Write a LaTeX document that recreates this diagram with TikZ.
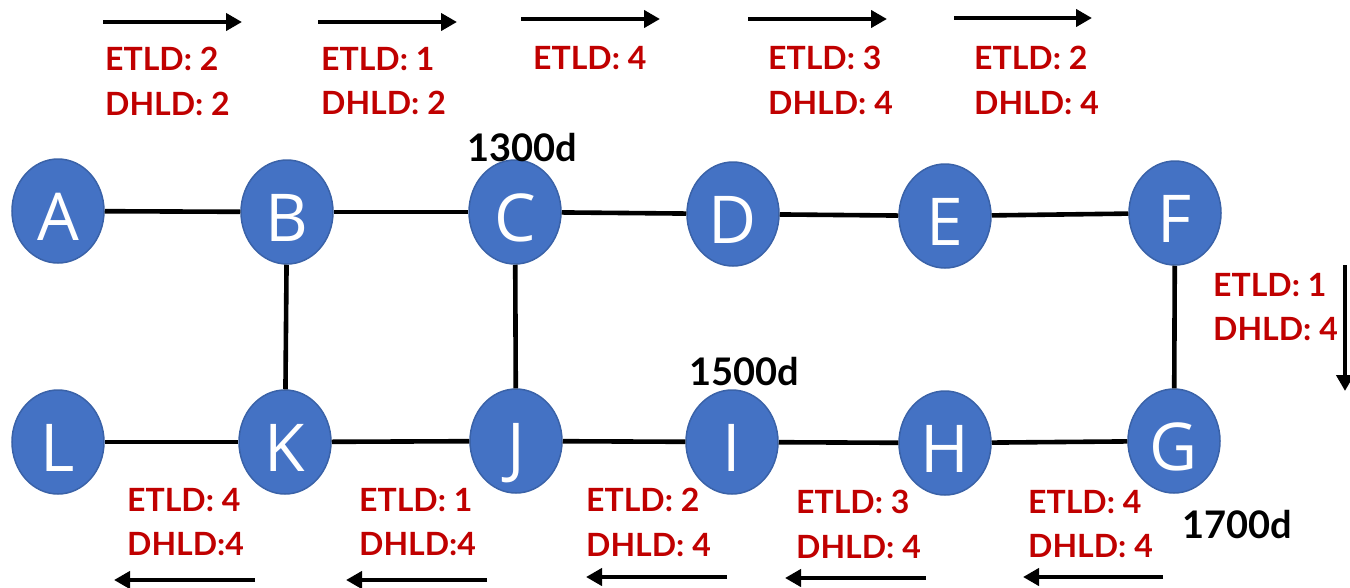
\documentclass[tikz,border=0pt]{standalone}
\usepackage{fontspec}
\newfontfamily\labfont{Lato}
\newfontfamily\letfont{Open Sans}
\usetikzlibrary{arrows.meta,shapes.geometric}
\definecolor{nodeblue}{HTML}{4472C4}
\definecolor{nodeedge}{HTML}{3A62A8}
\definecolor{labred}{HTML}{C00000}
\begin{document}
\begin{tikzpicture}[x=1pt,y=-1pt,
  vtx/.style={ellipse, draw=nodeedge, line width=1.5pt, fill=nodeblue,
    minimum width=92pt, minimum height=104pt, inner sep=0pt,
    text=white, font=\letfont\fontsize{66}{70}\selectfont,
    text height=59pt, text depth=0pt},
  link/.style={line width=4.6pt, black},
  arr/.style={line width=4.6pt, black, -{Triangle[length=16pt,width=17pt]}},
  lab/.style={anchor=north west, inner sep=0pt, text=labred, align=left,
    font=\labfont\bfseries\fontsize{32}{44.5}\selectfont},
  dist/.style={anchor=north west, inner sep=0pt, text=black,
    font=\labfont\bfseries\fontsize{38}{44}\selectfont}]
\useasboundingbox (0,0) rectangle (1350,587);
% vertices
\node[vtx] (A) at (58,211) {A};
\node[vtx] (B) at (287,212) {B};
\node[vtx] (C) at (515,212) {C};
\node[vtx] (D) at (733,214) {D};
\node[vtx] (E) at (945,216) {E};
\node[vtx] (F) at (1175,213) {F};
\node[vtx] (L) at (58,442) {L};
\node[vtx] (K) at (285,442) {K};
\node[vtx] (J) at (516,441) {J};
\node[vtx] (I) at (732,442) {I};
\node[vtx] (H) at (945,443) {H};
\node[vtx] (G) at (1174,441) {G};
% links
\draw[link] (A) -- (B);
\draw[link] (B) -- (C);
\draw[link] (C) -- (D);
\draw[link] (D) -- (E);
\draw[link] (E) -- (F);
\draw[link] (B) -- (K);
\draw[link] (C) -- (J);
\draw[link] (F) -- (G);
\draw[link] (L) -- (K);
\draw[link] (K) -- (J);
\draw[link] (J) -- (I);
\draw[link] (I) -- (H);
\draw[link] (H) -- (G);
% direction arrows
\coordinate (t1s) at (103,22);  \coordinate (t1e) at (242,22);
\coordinate (t2s) at (318,22);  \coordinate (t2e) at (457,22);
\coordinate (t3s) at (521,19);  \coordinate (t3e) at (660,19);
\coordinate (t4s) at (748,19);  \coordinate (t4e) at (887,19);
\coordinate (t5s) at (954,18);  \coordinate (t5e) at (1092,18);
\coordinate (rs) at (1345,265); \coordinate (re) at (1345,391);
\coordinate (b1s) at (255,580); \coordinate (b1e) at (114,580);
\coordinate (b2s) at (487,580); \coordinate (b2e) at (346,580);
\coordinate (b3s) at (727,577); \coordinate (b3e) at (586,577);
\coordinate (b4s) at (926,578); \coordinate (b4e) at (785,578);
\coordinate (b5s) at (1163,577); \coordinate (b5e) at (1023,577);
\foreach \a in {t1,t2,t3,t4,t5,b1,b2,b3,b4,b5,r}
  \draw[arr] (\a s) -- (\a e);
% labels
\node[lab] (l1) at (105,47) {ETLD: 2\\DHLD: 2};
\node[lab] (l2) at (321,47) {ETLD: 1\\DHLD: 2};
\node[lab] (l3) at (533,46) {ETLD: 4};
\node[lab] (l4) at (768,46) {ETLD: 3\\DHLD: 4};
\node[lab] (l5) at (974,46) {ETLD: 2\\DHLD: 4};
\node[lab] (l6) at (1213,273) {ETLD: 1\\DHLD: 4};
\node[lab] (l7) at (127,488) {ETLD: 4\\DHLD:4};
\node[lab] (l8) at (359,488) {ETLD: 1\\DHLD:4};
\node[lab] (l9) at (586,488) {ETLD: 2\\DHLD: 4};
\node[lab] (l10) at (796,490) {ETLD: 3\\DHLD: 4};
\node[lab] (l11) at (1028,490) {ETLD: 4\\DHLD: 4};
% distances
\node[dist] (d1) at (467,133) {1300d};
\node[dist] (d2) at (689,357) {1500d};
\node[dist] (d3) at (1182,510) {1700d};
\end{tikzpicture}
\end{document}
